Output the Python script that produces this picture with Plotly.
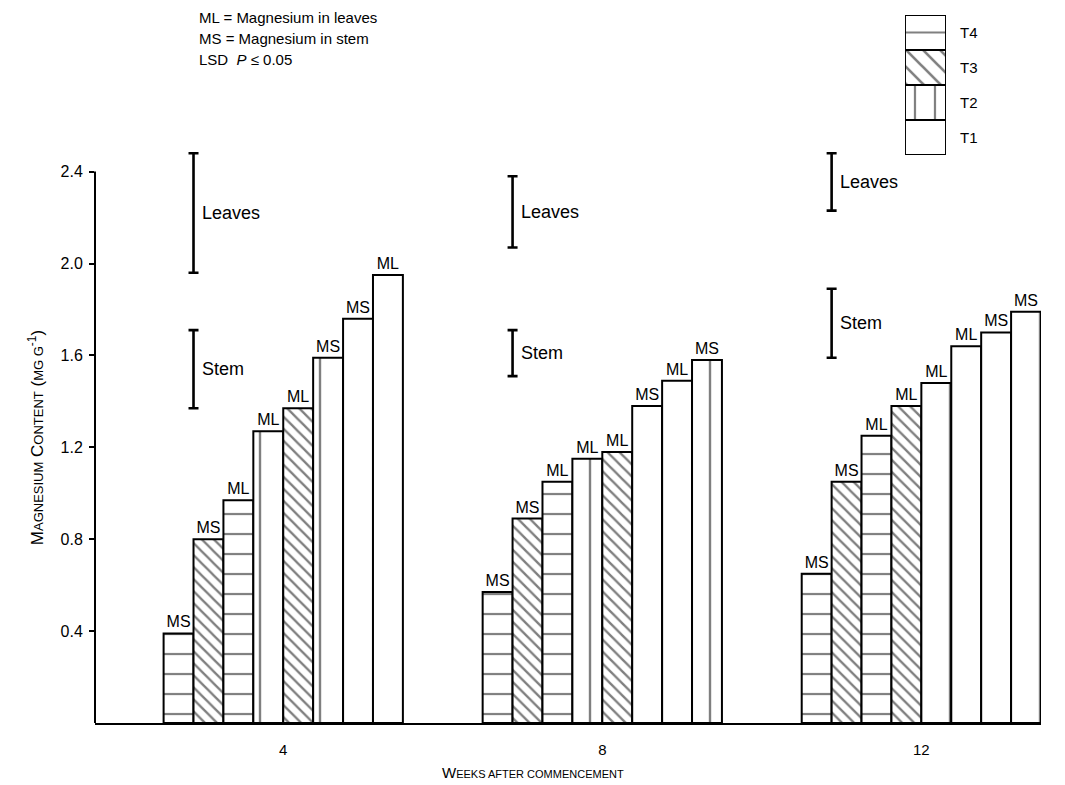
import plotly.graph_objects as go

# ---------------- data ----------------
weeks = ["4", "8", "12"]

# bar values (mg g-1), left to right within each week
values_w4 = [0.39, 0.80, 0.97, 1.27, 1.37, 1.59, 1.76, 1.95]
values_w8 = [0.57, 0.89, 1.05, 1.15, 1.18, 1.38, 1.49, 1.58]
values_w12 = [0.65, 1.05, 1.25, 1.38, 1.48, 1.64, 1.70, 1.79]

parts_w4 = ["MS", "MS", "ML", "ML", "ML", "MS", "MS", "ML"]
parts_w8 = ["MS", "MS", "ML", "ML", "ML", "MS", "ML", "MS"]
parts_w12 = ["MS", "MS", "ML", "ML", "ML", "ML", "MS", "MS"]

treat_w4 = ["T4", "T3", "T4", "T2", "T3", "T2", "T1", "T1"]
treat_w8 = ["T4", "T3", "T4", "T2", "T3", "T1", "T1", "T2"]
treat_w12 = ["T4", "T3", "T4", "T3", "T2", "T1", "T1", "T2"]

# LSD (P <= 0.05) bars: low / high ends
lsd_leaves_low = [1.96, 2.07, 2.23]
lsd_leaves_high = [2.48, 2.38, 2.48]
lsd_stem_low = [1.37, 1.51, 1.59]
lsd_stem_high = [1.71, 1.71, 1.89]

treatments = ["T1", "T2", "T3", "T4"]

y_ticks = [0.4, 0.8, 1.2, 1.6, 2.0, 2.4]

# ---------------- styling ----------------
FONT = "Liberation Sans, Arial, Helvetica, sans-serif"
PAT = {
    "T1": dict(shape="", size=8, solidity=0.1),
    "T2": dict(shape="|", size=30, solidity=0.08),
    "T3": dict(shape="\\", size=8.5, solidity=0.28),
    "T4": dict(shape="-", size=20, solidity=0.11),
}
LEG_PAT = {
    "T1": dict(shape="", size=8, solidity=0.1),
    "T2": dict(shape="|", size=20, solidity=0.11),
    "T3": dict(shape="\\", size=12, solidity=0.22),
    "T4": dict(shape="-", size=35, solidity=0.06),
}

values = [values_w4, values_w8, values_w12]
parts = [parts_w4, parts_w8, parts_w12]
treats = [treat_w4, treat_w8, treat_w12]
xpos = list(range(len(weeks)))
n_bars = len(values_w4)
BARGAP = 0.25
bar_w = (1 - BARGAP) / n_bars

fig = go.Figure()

for j in range(n_bars):
    tj = [treats[w][j] for w in xpos]
    fig.add_trace(go.Bar(
        x=xpos,
        y=[values[w][j] for w in xpos],
        text=[parts[w][j] for w in xpos],
        textposition="outside",
        constraintext="none",
        cliponaxis=False,
        textfont=dict(family=FONT, size=16, color="black"),
        marker=dict(
            color="white",
            line=dict(color="black", width=2),
            pattern=dict(
                shape=[PAT[t]["shape"] for t in tj],
                size=[PAT[t]["size"] for t in tj],
                solidity=[PAT[t]["solidity"] for t in tj],
                fgcolor="black",
                bgcolor="white",
            ),
        ),
        showlegend=False,
        hoverinfo="skip",
    ))

# LSD bars, placed at the right edge of the first bar of each group
lsd_x = [x - 3 * bar_w for x in xpos]
for low, high in [(lsd_leaves_low, lsd_leaves_high), (lsd_stem_low, lsd_stem_high)]:
    fig.add_trace(go.Scatter(
        x=lsd_x, y=low, mode="markers",
        marker=dict(size=1, color="rgba(0,0,0,0)"),
        error_y=dict(type="data", symmetric=False,
                     array=[h - l for l, h in zip(low, high)],
                     arrayminus=[0] * len(low),
                     color="black", thickness=2.6, width=5),
        showlegend=False, hoverinfo="skip", cliponaxis=False,
    ))

annotations = []
for i in xpos:
    annotations.append(dict(x=lsd_x[i], y=(lsd_leaves_low[i] + lsd_leaves_high[i]) / 2,
                            xref="x", yref="y", text="Leaves", showarrow=False,
                            xanchor="left", yanchor="middle", xshift=6,
                            font=dict(family=FONT, size=18, color="black")))
    annotations.append(dict(x=lsd_x[i], y=(lsd_stem_low[i] + lsd_stem_high[i]) / 2,
                            xref="x", yref="y", text="Stem", showarrow=False,
                            xanchor="left", yanchor="middle", xshift=6,
                            font=dict(family=FONT, size=18, color="black")))

# legend inset: stacked patterned box
fig.add_trace(go.Bar(
    x=[0] * len(treatments), y=[1] * len(treatments), base=list(range(len(treatments))),
    width=1, xaxis="x2", yaxis="y2",
    marker=dict(
        color="white",
        line=dict(color="black", width=2),
        pattern=dict(
            shape=[LEG_PAT[t]["shape"] for t in treatments],
            size=[LEG_PAT[t]["size"] for t in treatments],
            solidity=[LEG_PAT[t]["solidity"] for t in treatments],
            fgcolor="black", bgcolor="white",
        ),
    ),
    showlegend=False, hoverinfo="skip",
))
for k, t in enumerate(treatments):
    annotations.append(dict(x=0.5, y=k + 0.5, xref="x2", yref="y2", text=t,
                            showarrow=False, xanchor="left", yanchor="middle", xshift=12,
                            font=dict(family=FONT, size=15, color="black")))

# notes top-left
notes = ["ML = Magnesium in leaves", "MS = Magnesium in stem", "LSD  <i>P</i> ≤ 0.05"]
for k, s in enumerate(notes):
    annotations.append(dict(x=0.108, y=0.990 - k * 0.0295, xref="paper", yref="paper",
                            text=s, showarrow=False, xanchor="left", yanchor="middle",
                            font=dict(family=FONT, size=15, color="black")))

SC = "<span style='font-size:11px'>"
annotations.append(dict(
    x=0.463, y=-0.069, xref="paper", yref="paper",
    text="W" + SC + "EEKS AFTER COMMENCEMENT</span>",
    showarrow=False, xanchor="center", yanchor="middle",
    font=dict(family=FONT, size=15, color="black")))
SC2 = "<span style='font-size:13px'>"
annotations.append(dict(
    x=-0.063, y=0.40, xref="paper", yref="paper", textangle=-90,
    text="M" + SC2 + "AGNESIUM</span> C" + SC2 + "ONTENT</span> (" + SC2 + "MG G</span><sup>-1</sup>)",
    showarrow=False, xanchor="center", yanchor="middle",
    font=dict(family=FONT, size=17, color="black")))

fig.update_layout(
    width=1065, height=785,
    margin=dict(l=95, r=24, t=10, b=62),
    paper_bgcolor="white", plot_bgcolor="white",
    barmode="group", bargap=BARGAP, bargroupgap=0,
    font=dict(family=FONT, size=15, color="black"),
    xaxis=dict(
        domain=[0, 1], range=[-0.59, 2.375],
        tickvals=xpos, ticktext=weeks, ticks="",
        showline=True, linecolor="black", linewidth=2,
        showgrid=False, zeroline=False, ticklabelstandoff=12,
        tickfont=dict(family=FONT, size=15, color="black"),
    ),
    yaxis=dict(
        domain=[0, 0.812], range=[0, 2.52],
        tickvals=y_ticks, ticktext=[f"{v:.1f}" for v in y_ticks],
        ticks="outside", ticklen=5, tickwidth=1.5, tickcolor="black",
        showline=False, showgrid=False, zeroline=False, ticklabelstandoff=3,
        tickfont=dict(family=FONT, size=16, color="black"),
    ),
    xaxis2=dict(domain=[0.8562, 0.8996], range=[-0.5, 0.5], anchor="y2",
                visible=False, fixedrange=True),
    yaxis2=dict(domain=[0.7966, 0.993], range=[0, 4], anchor="x2",
                visible=False, fixedrange=True),
    annotations=annotations,
    shapes=[dict(type="line", xref="paper", yref="y", x0=0, x1=0, y0=0, y1=max(y_ticks),
                 line=dict(color="black", width=2))],
)

fig.write_html("out.html", config={"displayModeBar": False},
               post_script="document.body.style.margin='0px';")
